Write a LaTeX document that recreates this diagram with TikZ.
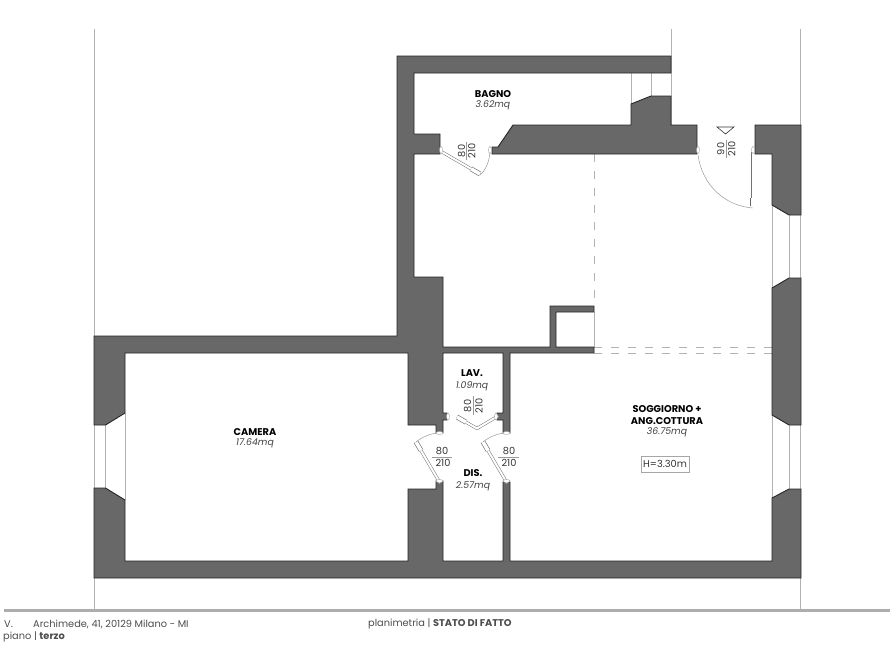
\documentclass[tikz,border=0pt]{standalone}
\usepackage{fontspec}
\setmainfont{Poppins}
\tikzset{
  wall/.style={fill=wallgray, draw=black!85, line width=0.9pt, line join=miter},
  thinline/.style={draw=black!30, line width=0.8pt},
  dashline/.style={draw=black!30, line width=0.9pt, dash pattern=on 8pt off 9pt},
  leaf/.style={draw=black!55, line width=0.5pt, double=white, double distance=2pt},
  leafend/.style={draw=black!60, line width=0.6pt, double=white, double distance=3.6pt},
  jamb/.style={draw=black!35, fill=white, line width=0.4pt},
  swing/.style={draw=black!40, line width=0.5pt},
  room/.style={font=\fontsize{9.8}{11}\selectfont\bfseries, inner sep=0pt, align=center},
  area/.style={font=\fontsize{9.3}{11}\selectfont\itshape, text=black!75, inner sep=0pt},
  dim/.style={font=\fontsize{9.8}{11}\selectfont, text=black!80, inner sep=0pt},
  foot/.style={font=\fontsize{9.8}{11}\selectfont, text=black!70, inner sep=0pt, anchor=west},
}
\definecolor{wallgray}{RGB}{104,104,104}
\begin{document}
\begin{tikzpicture}[x=1pt,y=-1pt]
\useasboundingbox (0,0) rectangle (893,670);
% reference lines
\draw[thinline] (94,29) -- (94,609);
\draw[thinline] (671,29) -- (671,125);
\draw[thinline] (800,29) -- (800,609);
\draw[draw=black!32, line width=3pt] (4,610) -- (890,610);
% windows and niche
\draw[thinline] (105.5,425) -- (105.5,488);
\draw[thinline] (125,413) -- (125,500);
\draw[thinline] (772,205) -- (772,288);
\draw[thinline] (789,215) -- (789,278);
\draw[thinline] (772,415) -- (772,498);
\draw[thinline] (789,425) -- (789,489);
\draw[thinline] (631,73) -- (631,104);
\draw[thinline] (651,73) -- (651,96);
\draw[thinline] (594,312) -- (594,347);
% kitchen limits
\draw[dashline] (594,154) -- (594,306);
\draw[dashline] (594,347) -- (772,347);
\draw[dashline] (594,353) -- (772,353);
% walls
\draw[wall] (397,56) -- (671,56) -- (671,73) -- (414,73) -- (414,134) -- (440,134) -- (440,154) -- (414,154) -- (414,277) -- (443,277) -- (443,347) -- (550,347) -- (550,306) -- (594,306) -- (594,312) -- (556,312) -- (556,347) -- (594,347) -- (594,353) -- (510,353) -- (510,433) -- (503,433) -- (503,420) -- (497,420) -- (497,413) -- (503,413) -- (503,353) -- (443,353) -- (443,413) -- (447,413) -- (447,420) -- (443,420) -- (443,433) -- (436,433) -- (436,425) -- (408,425) -- (408,353) -- (125,353) -- (125,413) -- (105.5,425) -- (94,425) -- (94,336) -- (397,336) -- cycle;
\draw[wall] (94,488) -- (105.5,488) -- (125,500) -- (125,561) -- (408,561) -- (408,489) -- (436,489) -- (436,481) -- (443,481) -- (443,561) -- (503,561) -- (503,482) -- (510,482) -- (510,561) -- (772,561) -- (772,498) -- (789,489) -- (801,489) -- (801,578) -- (94,578) -- cycle;
\draw[wall] (492,147) -- (498,147) -- (513,125) -- (631,125) -- (631,104) -- (651,96) -- (671,96) -- (671,125) -- (697,125) -- (697,154) -- (492,154) -- cycle;
\draw[wall] (755,125) -- (801,125) -- (801,215) -- (789,215) -- (772,205) -- (772,154) -- (755,154) -- cycle;
\draw[wall] (772,288) -- (789,278) -- (801,278) -- (801,425) -- (789,425) -- (772,415) -- cycle;
% doors
\draw[leaf] (442,152) -- (480,174);
\draw[leafend] (471,168.8) -- (480,174);
\draw[swing] (480,175) .. controls (486,170) and (490,160) .. (490,150);
\draw[leaf] (752.7,152) -- (752.7,206);
\draw[leafend] (752.7,198) -- (752.7,206);
\draw[swing] (752.7,208) .. controls (725,206) and (702,185) .. (698,155);
\draw[leaf] (498,416) -- (477,428.5) -- (457,417);
\draw[leafend] (466,422.2) -- (457,417);
\draw[leaf] (440,483) -- (416,442);
\draw[leafend] (421,450.5) -- (416,442);
\draw[swing] (416,442) .. controls (422,437) and (431,433) .. (440,433);
\draw[leaf] (507,483) -- (483,442);
\draw[leafend] (488,450.5) -- (483,442);
\draw[swing] (483,442) .. controls (489,437) and (498,433) .. (507,433);
% door jambs
\draw[jamb] (441,150) ellipse (1.5 and 3.5);
\draw[jamb] (490,150) ellipse (1.5 and 3.5);
\draw[jamb] (698,150) ellipse (1.5 and 3.5);
\draw[jamb] (753,150) ellipse (1.5 and 3.5);
\draw[jamb] (439.5,433) ellipse (3.5 and 1.5);
\draw[jamb] (439.5,481) ellipse (3.5 and 1.5);
\draw[jamb] (506.5,433) ellipse (3.5 and 1.5);
\draw[jamb] (506.5,481) ellipse (3.5 and 1.5);
\draw[jamb] (448,416.5) ellipse (1.5 and 3.5);
\draw[jamb] (496,416.5) ellipse (1.5 and 3.5);
% door sizes
\node[dim, rotate=90] (bagnow) at (461.7,151) {80};
\node[dim, rotate=90] (bagnoh) at (471.7,151) {210};
\draw[swing] (466.7,142) -- (466.7,160);
\node[dim, rotate=90] (lavw) at (467.7,406) {80};
\node[dim, rotate=90] (lavh) at (479,406) {210};
\draw[swing] (473.5,396) -- (473.5,415);
\node[dim, rotate=90] (entryw) at (720.7,149) {90};
\node[dim, rotate=90] (entryh) at (731.7,149) {210};
\draw[swing] (726,140) -- (726,158);
\draw[draw=black!80, line width=0.6pt] (717,127) -- (734,127) -- (725.5,134) -- cycle;
\node[dim] (camw) at (442,451) {80};
\node[dim] (camh) at (443,463) {210};
\draw[swing] (432,457) -- (452,457);
\node[dim] (sogw) at (509,451) {80};
\node[dim] (sogh) at (509,463) {210};
\draw[swing] (498,457) -- (519,457);
% rooms
\node[room] (bagno) at (493,94) {BAGNO};
\node[area] (bagnoa) at (493,105) {3.62mq};
\node[room] (camera) at (255,432) {CAMERA};
\node[area] (cameraa) at (255,443) {17.64mq};
\node[room] (lav) at (472,373) {LAV.};
\node[area] (lava) at (472,386) {1.09mq};
\node[room] (dis) at (473,473) {DIS.};
\node[area] (disa) at (473,486) {2.57mq};
\node[room] (sog) at (667,409) {SOGGIORNO +};
\node[room] (ang) at (667,421) {ANG.COTTURA};
\node[area] (soga) at (667,432) {36.75mq};
\node[dim, draw=black!35, line width=0.5pt, minimum width=48pt, minimum height=16pt] (hbox) at (665,464) {H=3.30m};
% footer
\node[foot] (addr1) at (4,624) {V.};
\node[foot] (addr2) at (33,624) {Archimede, 41, 20129 Milano - MI};
\node[foot] (plan) at (368,624) {planimetria | \textbf{STATO DI FATTO}};
\node[foot] (floor) at (3,637) {piano | \textbf{terzo}};
\end{tikzpicture}
\end{document}
